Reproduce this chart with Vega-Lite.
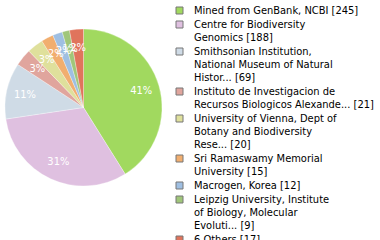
{
  "$schema": "https://vega.github.io/schema/vega-lite/v6.json",
  "width": 167,
  "height": 215,
  "autosize": {"type": "none"},
  "padding": {"left": 0, "top": 0, "right": 213, "bottom": 25},
  "background": "white",
  "config": {
    "view": {"stroke": null},
    "font": "DejaVu Sans Condensed"
  },
  "data": {
    "values": [
      {"rank": 1, "source": "Mined from GenBank, NCBI [245]", "count": 245, "pct": "41%"},
      {"rank": 2, "source": "Centre for Biodiversity\nGenomics [188]", "count": 188, "pct": "31%"},
      {"rank": 3, "source": "Smithsonian Institution,\nNational Museum of Natural\nHistor... [69]", "count": 69, "pct": "11%"},
      {"rank": 4, "source": "Instituto de Investigacion de\nRecursos Biologicos Alexande... [21]", "count": 21, "pct": "3%"},
      {"rank": 5, "source": "University of Vienna, Dept of\nBotany and Biodiversity\nRese... [20]", "count": 20, "pct": "3%"},
      {"rank": 6, "source": "Sri Ramaswamy Memorial\nUniversity [15]", "count": 15, "pct": "2%"},
      {"rank": 7, "source": "Macrogen, Korea [12]", "count": 12, "pct": "2%"},
      {"rank": 8, "source": "Leipzig University, Institute\nof Biology, Molecular\nEvoluti... [9]", "count": 9, "pct": "1%"},
      {"rank": 9, "source": "6 Others [17]", "count": 17, "pct": "2%"}
    ]
  },
  "encoding": {
    "theta": {"field": "count", "type": "quantitative", "stack": true},
    "order": {"field": "rank", "type": "ordinal"}
  },
  "layer": [
    {
      "mark": {"type": "arc", "outerRadius": 78.5, "stroke": "white", "strokeWidth": 0.3},
      "encoding": {
        "color": {
          "field": "source",
          "type": "nominal",
          "sort": {"field": "rank"},
          "scale": {
            "range": ["#a1d95f", "#dfc0e0", "#cfdbe6", "#e0a59d", "#dfe09c", "#f1ae6f", "#9fbfe2", "#a0c67a", "#e0745c"]
          },
          "legend": {
            "title": null,
            "orient": "none",
            "legendX": 174,
            "legendY": 5,
            "padding": 0,
            "symbolType": "square",
            "symbolSize": 49,
            "symbolStrokeColor": "#777777",
            "symbolStrokeWidth": 1,
            "labelFont": "DejaVu Sans Condensed",
            "labelFontSize": 11,
            "labelColor": "black",
            "labelOffset": 9,
            "labelLimit": 400,
            "rowPadding": 2,
            "labelExpr": "split(datum.label, '\\n')"
          }
        }
      }
    },
    {
      "mark": {"type": "text", "radius": 60, "color": "white", "fontSize": 11, "font": "DejaVu Sans Condensed"},
      "encoding": {
        "text": {"field": "pct", "type": "nominal"}
      }
    }
  ]
}
